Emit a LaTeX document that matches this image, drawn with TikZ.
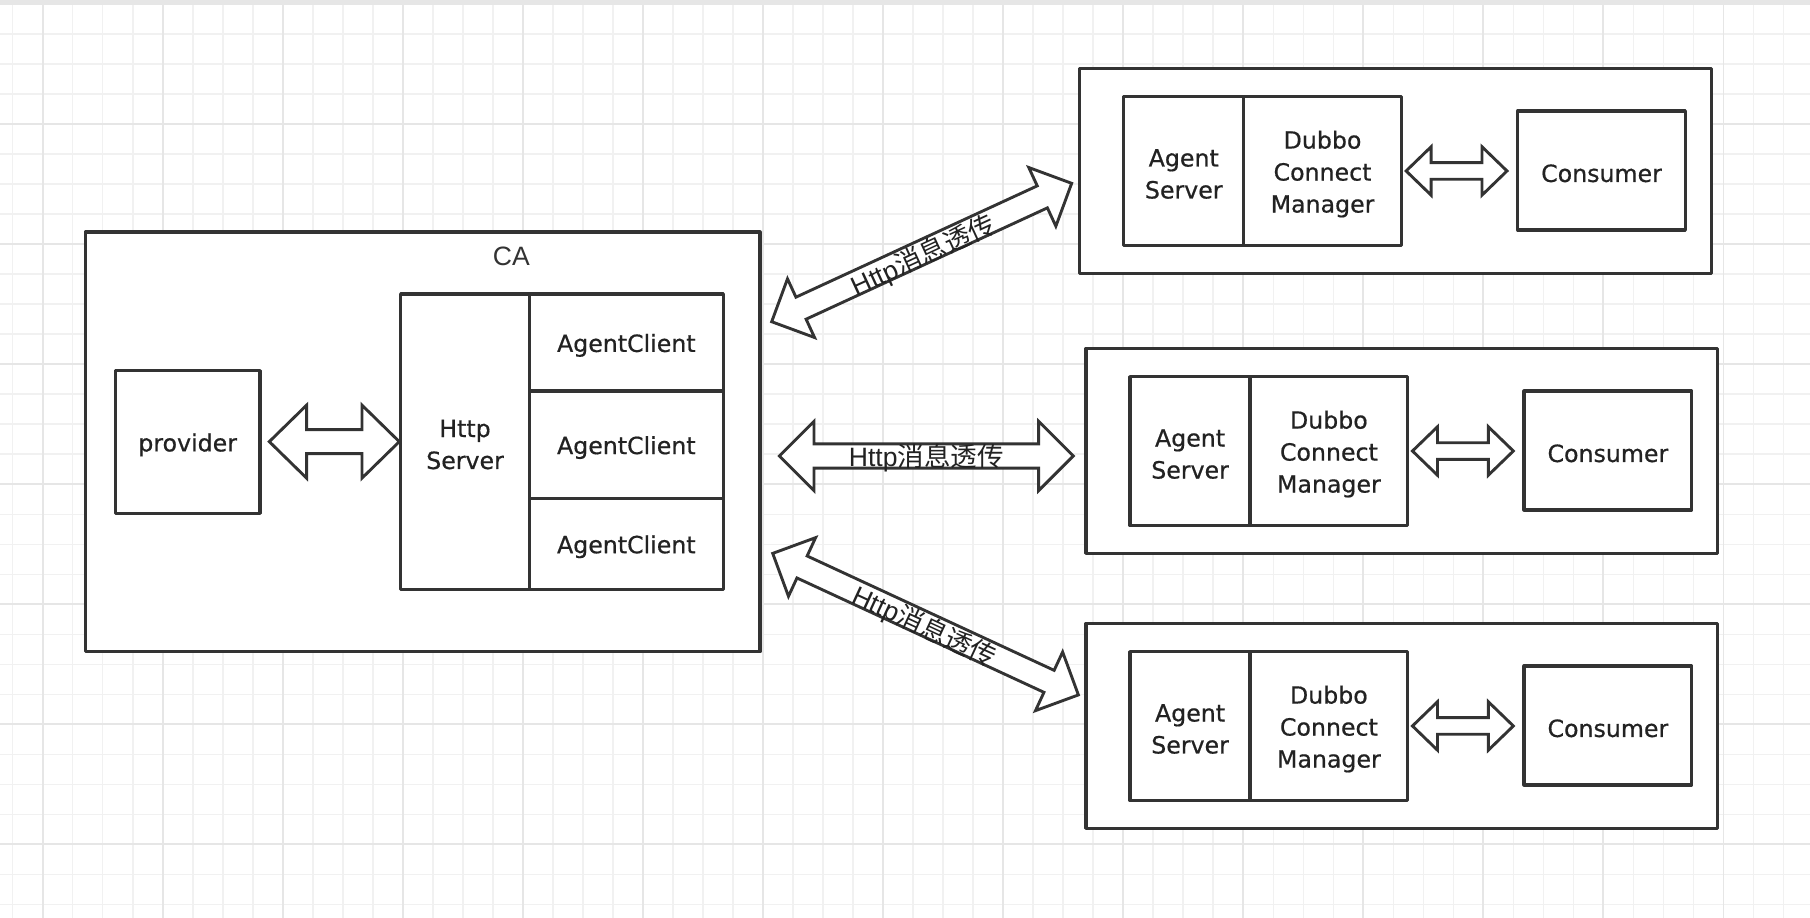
\documentclass[tikz,border=0pt]{standalone}
\usepackage{fontspec}
\setmainfont{DejaVu Sans}
\newfontfamily\boxfamily[FakeBold=0.6]{DejaVu Sans}
\newfontfamily\labfamily{Liberation Sans}
\newfontfamily\cjk{Noto Sans CJK SC}
\usetikzlibrary{calc}
\definecolor{linec}{HTML}{333333}
\definecolor{gridminor}{HTML}{F1F1F1}
\definecolor{gridmajor}{HTML}{E6E6E6}
\definecolor{txtc}{HTML}{222222}
\newcommand{\boxfont}{\boxfamily\fontsize{20.5}{27.7}\selectfont}
\newcommand{\labfont}{\labfamily\fontsize{23}{27}\selectfont}
\tikzset{
  box/.style={draw=linec, line width=2.8pt, fill=white, inner sep=0pt, outer sep=0pt,
    line join=round},
  boxtext/.style={font=\boxfont, text=txtc, align=center, inner sep=0pt, yshift=-2.5pt},
  blk/.style={draw=linec, line width=2.5pt, fill=white, line join=miter},
  lbl/.style={font=\labfont, text=txtc, inner sep=0pt},
}
\newcommand{\boxnode}[6]{%
  \node[box, minimum width={(#4)-(#2)}, minimum height={(#5)-(#3)},
    label={[boxtext]center:#6}] (#1) at ({((#2)+(#4))/2},{((#3)+(#5))/2}) {};}
\newcommand{\dblarrow}[5]{%
  \path let \p1=(#1), \p2=(#2) in \pgfextra{%
    \pgfmathsetmacro{\tmpang}{atan2(\y2-\y1,\x2-\x1)}%
    \pgfmathsetmacro{\tmplen}{veclen(\x2-\x1,\y2-\y1)}%
    \xdef\arrang{\tmpang}\xdef\arrlen{\tmplen}};
  \begin{scope}[shift={(#1)}, rotate=\arrang]
    \draw[blk] (0,0) -- (#5,#4) -- (#5,#3) -- ({\arrlen-#5},#3) -- ({\arrlen-#5},#4)
      -- (\arrlen,0) -- ({\arrlen-#5},-#4) -- ({\arrlen-#5},-#3) -- (#5,-#3) -- (#5,-#4) -- cycle;
  \end{scope}}
\newcommand{\rightgroup}[3]{%
  \boxnode{r#1out}{#2}{#3}{#2+547.2}{#3+177.6}{}
  \boxnode{r#1agent}{#2+38.2}{#3+24.5}{#2+142.1}{#3+153.6}{Agent\\Server}
  \boxnode{r#1dubbo}{#2+142.1}{#3+24.5}{#2+278.7}{#3+153.6}{Dubbo\\Connect\\Manager}
  \boxnode{r#1cons}{#2+379.5}{#3+36.9}{#2+524.7}{#3+140}{Consumer}
  \coordinate (r#1al) at ({#2+282.8},{#3+88.9});
  \coordinate (r#1ar) at ({#2+370.2},{#3+88.9});
  \dblarrow{r#1al}{r#1ar}{7.2}{21}{21.7}
}
\begin{document}
\begin{tikzpicture}[x=1pt,y=-1pt]
\useasboundingbox (0,0) rectangle (1568,795);
\fill[white] (0,0) rectangle (1568,795);
% grid
\foreach \i in {0,...,60} {\draw[gridminor, line width=1.3pt] ({11+26*\i},0) -- ({11+26*\i},795);}
\foreach \j in {0,...,30} {\draw[gridminor, line width=1.3pt] (0,{3.5+26*\j}) -- (1568,{3.5+26*\j});}
\foreach \i in {0,...,15} {\draw[gridmajor, line width=1.6pt] ({37+104*\i},0) -- ({37+104*\i},795);}
\foreach \j in {0,...,7} {\draw[gridmajor, line width=1.6pt] (0,{3.5+104*\j}) -- (1568,{3.5+104*\j});}
\fill[gridmajor] (0,0) rectangle (1568,4);
% left group
\boxnode{ca}{74}{201}{658.4}{564.6}{}
\node[lbl, text=linec] (calabel) at (443,222) {CA};
\boxnode{provider}{99.9}{321.1}{225.2}{444.7}{provider}
\boxnode{httpserver}{347.1}{254.7}{458.6}{510.5}{Http\\Server}
\boxnode{ac1}{458.6}{254.7}{626.6}{338.7}{AgentClient}
\boxnode{ac2}{458.6}{338.7}{626.6}{431.7}{AgentClient}
\boxnode{ac3}{458.6}{431.7}{626.6}{510.5}{AgentClient}
\coordinate (pl) at (233.3,382.6);
\coordinate (pr) at (345.9,382.6);
\dblarrow{pl}{pr}{10.4}{31.6}{32.3}
% right groups
\rightgroup{1}{935.3}{59.2}
\rightgroup{2}{940.8}{301.8}
\rightgroup{3}{940.8}{540}
% big arrows
\coordinate (u1) at (668.5,278.7);
\coordinate (u2) at (928.4,158.8);
\coordinate (m1) at (675.2,395);
\coordinate (m2) at (929.8,395);
\coordinate (d1) at (669.4,479.4);
\coordinate (d2) at (934.2,602);
\dblarrow{u1}{u2}{10.5}{28}{28}
\dblarrow{m1}{m2}{10.5}{30}{30}
\dblarrow{d1}{d2}{10.5}{28}{28}
\path (u1) -- node[lbl, sloped, yshift=-3.5pt] (ulabel) {Http{\cjk 消息透传}} (u2);
\path (m1) -- node[lbl, sloped, yshift=-2pt] (mlabel) {Http{\cjk 消息透传}} (m2);
\path (d1) -- node[lbl, sloped, yshift=-3pt] (dlabel) {Http{\cjk 消息透传}} (d2);
\end{tikzpicture}
\end{document}
